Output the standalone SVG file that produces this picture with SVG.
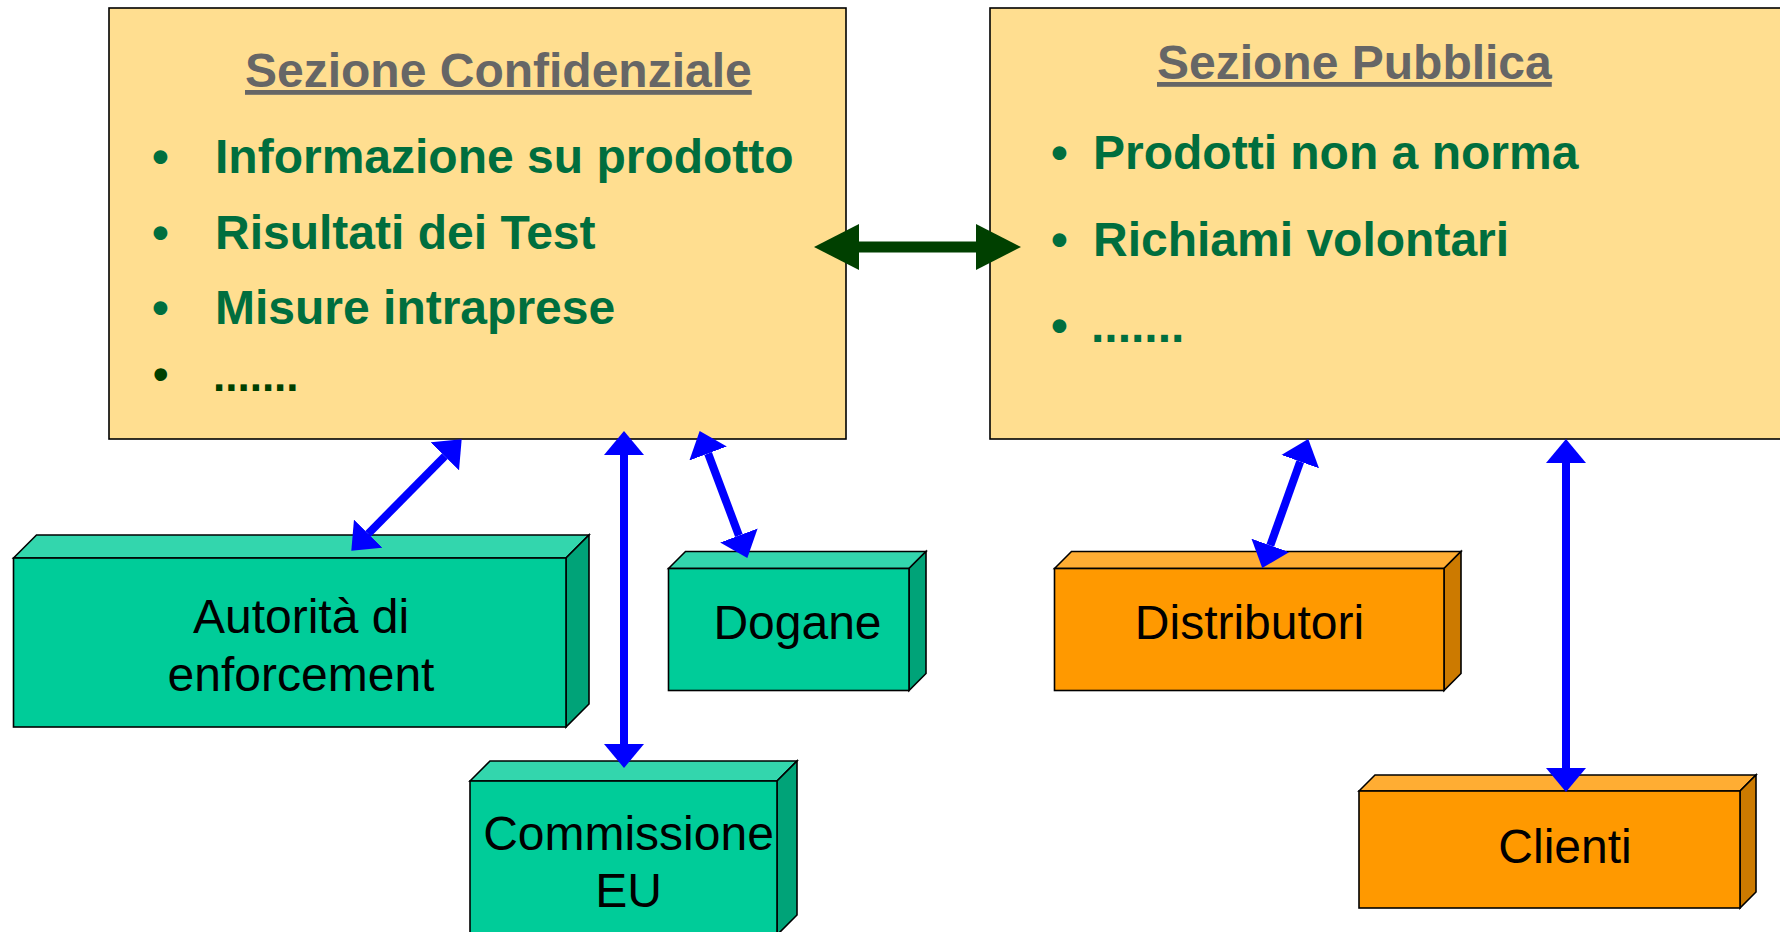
<svg xmlns="http://www.w3.org/2000/svg" width="1780" height="932" viewBox="0 0 1780 932">
  <defs>
    <style>
      .panel { fill: #FFDE90; stroke: #000; stroke-width: 1.6; }
      .title { font-family: "Liberation Sans", Arial, sans-serif; font-weight: bold; font-size: 48px; fill: #666666; text-decoration: underline; }
      .item { font-family: "Liberation Sans", Arial, sans-serif; font-weight: bold; font-size: 48px; fill: #006E3E; }
      .item-dark { font-family: "Liberation Sans", Arial, sans-serif; font-weight: bold; font-size: 44px; fill: #004000; }
      .label { font-family: "Liberation Sans", Arial, sans-serif; font-size: 48px; fill: #000; text-anchor: middle; }
      .edge { stroke: #000; stroke-width: 1.6; stroke-linejoin: miter; }
      .g-front { fill: #00CC99; }
      .g-top { fill: #33D6AD; }
      .g-side { fill: #00A378; }
      .o-front { fill: #FF9900; }
      .o-top { fill: #FFAD33; }
      .o-side { fill: #CC7A00; }
      .link { stroke: #0000FF; stroke-width: 8; fill: none; marker-start: url(#blueHead); marker-end: url(#blueHead); }
      .bridge { stroke: #004000; stroke-width: 11; fill: none; marker-start: url(#greenHead); marker-end: url(#greenHead); }
    </style>
    <marker id="blueHead" markerUnits="userSpaceOnUse" markerWidth="24" markerHeight="40" refX="0" refY="20" orient="auto-start-reverse" viewBox="0 0 24 40">
      <path d="M0,0 L24,20 L0,40 Z" fill="#0000FF"/>
    </marker>
    <marker id="greenHead" markerUnits="userSpaceOnUse" markerWidth="45" markerHeight="46" refX="0" refY="23" orient="auto-start-reverse" viewBox="0 0 45 46">
      <path d="M0,0 L45,23 L0,46 Z" fill="#004000"/>
    </marker>
  </defs>

  <rect width="1780" height="932" fill="#FFFFFF"/>

  <!-- confidential section -->
  <g id="sezione-confidenziale">
    <rect class="panel" x="109" y="8" width="737" height="431"/>
    <text class="title" x="245" y="87">Sezione Confidenziale</text>
    <text class="item" x="152" y="173">•</text>
    <text class="item" x="215" y="173">Informazione su prodotto</text>
    <text class="item" x="152" y="249">•</text>
    <text class="item" x="215" y="249">Risultati dei Test</text>
    <text class="item" x="152" y="324">•</text>
    <text class="item" x="215" y="324">Misure intraprese</text>
    <text class="item-dark" x="153" y="389">•</text>
    <text class="item-dark" x="213" y="391">.......</text>
  </g>

  <!-- public section -->
  <g id="sezione-pubblica">
    <rect class="panel" x="990" y="8" width="800" height="431"/>
    <text class="title" x="1157" y="79">Sezione Pubblica</text>
    <text class="item" x="1051" y="169">•</text>
    <text class="item" x="1093" y="169">Prodotti non a norma</text>
    <text class="item" x="1051" y="256">•</text>
    <text class="item" x="1093" y="256">Richiami volontari</text>
    <text class="item" x="1051" y="342">•</text>
    <text class="item" x="1091" y="342">.......</text>
  </g>

  <!-- green blocks -->
  <g id="autorita">
    <polygon class="g-top edge" points="13.5,558 36.5,535 589,535 566,558"/>
    <polygon class="g-side edge" points="566,558 589,535 589,704 566,727"/>
    <rect class="g-front edge" x="13.5" y="558" width="552.5" height="169"/>
    <text class="label" x="301" y="633">Autorità di</text>
    <text class="label" x="301" y="691">enforcement</text>
  </g>

  <g id="dogane">
    <polygon class="g-top edge" points="668.5,568.5 685.5,551.5 926,551.5 909,568.5"/>
    <polygon class="g-side edge" points="909,568.5 926,551.5 926,673.5 909,690.5"/>
    <rect class="g-front edge" x="668.5" y="568.5" width="240.5" height="122"/>
    <text class="label" x="797.5" y="639">Dogane</text>
  </g>

  <g id="commissione">
    <polygon class="g-top edge" points="470,781 490,761 797,761 777,781"/>
    <polygon class="g-side edge" points="777,781 797,761 797,915 777,935"/>
    <rect class="g-front edge" x="470" y="781" width="307" height="154"/>
    <text class="label" x="628.5" y="850">Commissione</text>
    <text class="label" x="628.5" y="907">EU</text>
  </g>

  <!-- orange blocks -->
  <g id="distributori">
    <polygon class="o-top edge" points="1054.5,568.5 1071.5,551.5 1461,551.5 1444,568.5"/>
    <polygon class="o-side edge" points="1444,568.5 1461,551.5 1461,673.5 1444,690.5"/>
    <rect class="o-front edge" x="1054.5" y="568.5" width="389.5" height="122"/>
    <text class="label" x="1249.5" y="639">Distributori</text>
  </g>

  <g id="clienti">
    <polygon class="o-top edge" points="1359,791 1375,775 1756,775 1740,791"/>
    <polygon class="o-side edge" points="1740,791 1756,775 1756,892 1740,908"/>
    <rect class="o-front edge" x="1359" y="791" width="381" height="117"/>
    <text class="label" x="1565" y="863">Clienti</text>
  </g>

  <!-- connectors -->
  <g id="connectors">
    <line class="bridge" x1="859" y1="247" x2="976" y2="247"/>
    <line class="link" x1="444.8" y1="456.3" x2="368.2" y2="533.7"/>
    <line class="link" x1="624" y1="455" x2="624" y2="744"/>
    <line class="link" x1="708.1" y1="453.5" x2="738.9" y2="535.5"/>
    <line class="link" x1="1300.2" y1="461.6" x2="1270.3" y2="545.4"/>
    <line class="link" x1="1566" y1="463" x2="1566" y2="768"/>
  </g>
</svg>
